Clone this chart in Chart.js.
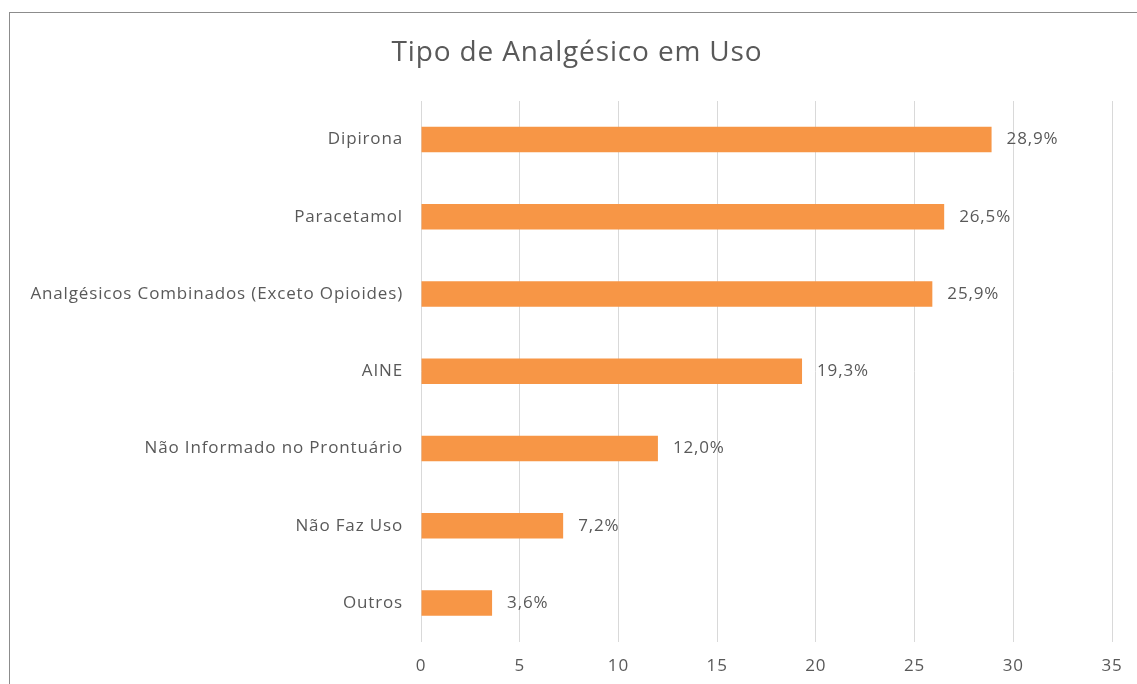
<!DOCTYPE html>
<html>
<head>
<meta charset="utf-8">
<script src="https://cdn.jsdelivr.net/npm/chart.js@4"></script>
<style>
    html, body { margin: 0; padding: 0; background: #fff; overflow: hidden; }
    body { width: 1137px; height: 684px; position: relative; }
    .frame {
        position: absolute; left: 9px; top: 12px;
        width: 1140px; height: 690px;
        border: 1px solid #8c8c8c;
        box-sizing: border-box;
    }
    #chart { position: absolute; left: 1px; top: 1px; }
</style>
</head>
<body>
<div class="frame">
    <canvas id="chart" width="1132" height="676"></canvas>
</div>
<script>
const chartTitle = 'Tipo de Analgésico em Uso';
const categories = [
    'Dipirona',
    'Paracetamol',
    'Analgésicos Combinados (Exceto Opioides)',
    'AINE',
    'Não Informado no Prontuário',
    'Não Faz Uso',
    'Outros'
];
const values = [28.9, 26.5, 25.9, 19.3, 12.0, 7.2, 3.6];
const axisMin = 0;
const axisMax = 35;
const axisStep = 5;

const textGray = '#595959';
const barOrange = '#f79646';
const fontFamily = '"Open Sans", "Liberation Sans", sans-serif';

// the original text is drawn a bit wider than Open Sans, so space the letters out
const spacing = {
    id: 'spacing',
    beforeDraw(chart) {
        chart.ctx.letterSpacing = '0.85px';
    }
};

// title centred on the whole canvas (the built-in one follows the layout padding)
const centredTitle = {
    id: 'centredTitle',
    afterDraw(chart) {
        const ctx = chart.ctx;
        ctx.save();
        ctx.letterSpacing = '0.85px';
        ctx.font = '28px ' + fontFamily;
        ctx.fillStyle = textGray;
        ctx.textAlign = 'center';
        ctx.textBaseline = 'middle';
        ctx.fillText(chartTitle, chart.width / 2, 39);
        ctx.restore();
    }
};

const valueLabels = {
    id: 'valueLabels',
    afterDatasetsDraw(chart) {
        const ctx = chart.ctx;
        const meta = chart.getDatasetMeta(0);
        ctx.save();
        ctx.font = '17px ' + fontFamily;
        ctx.fillStyle = textGray;
        ctx.textAlign = 'left';
        ctx.textBaseline = 'middle';
        meta.data.forEach((bar, i) => {
            const txt = values[i].toFixed(1).replace('.', ',') + '%';
            ctx.fillText(txt, bar.x + 15, bar.y);
        });
        ctx.restore();
    }
};

new Chart(document.getElementById('chart').getContext('2d'), {
    type: 'bar',
    data: {
        labels: categories,
        datasets: [{
            data: values,
            backgroundColor: barOrange,
            borderWidth: 0,
            categoryPercentage: 1,
            barPercentage: 0.33
        }]
    },
    options: {
        indexAxis: 'y',
        responsive: false,
        animation: false,
        layout: { padding: { left: 0, right: 31, top: 87, bottom: 0 } },
        plugins: {
            legend: { display: false },
            tooltip: { enabled: false },
            title: { display: false }
        },
        scales: {
            x: {
                min: axisMin,
                max: axisMax,
                ticks: {
                    stepSize: axisStep,
                    color: textGray,
                    padding: 14,
                    font: { family: fontFamily, size: 17 }
                },
                grid: { color: '#d9d9d9', drawTicks: false, lineWidth: 1 },
                border: { display: false }
            },
            y: {
                afterFit(scale) { scale.width = 410; },
                ticks: {
                    color: textGray,
                    padding: 18,
                    font: { family: fontFamily, size: 17 }
                },
                grid: { display: false, drawTicks: false },
                border: { display: false }
            }
        }
    },
    plugins: [spacing, valueLabels, centredTitle]
});
</script>
</body>
</html>
